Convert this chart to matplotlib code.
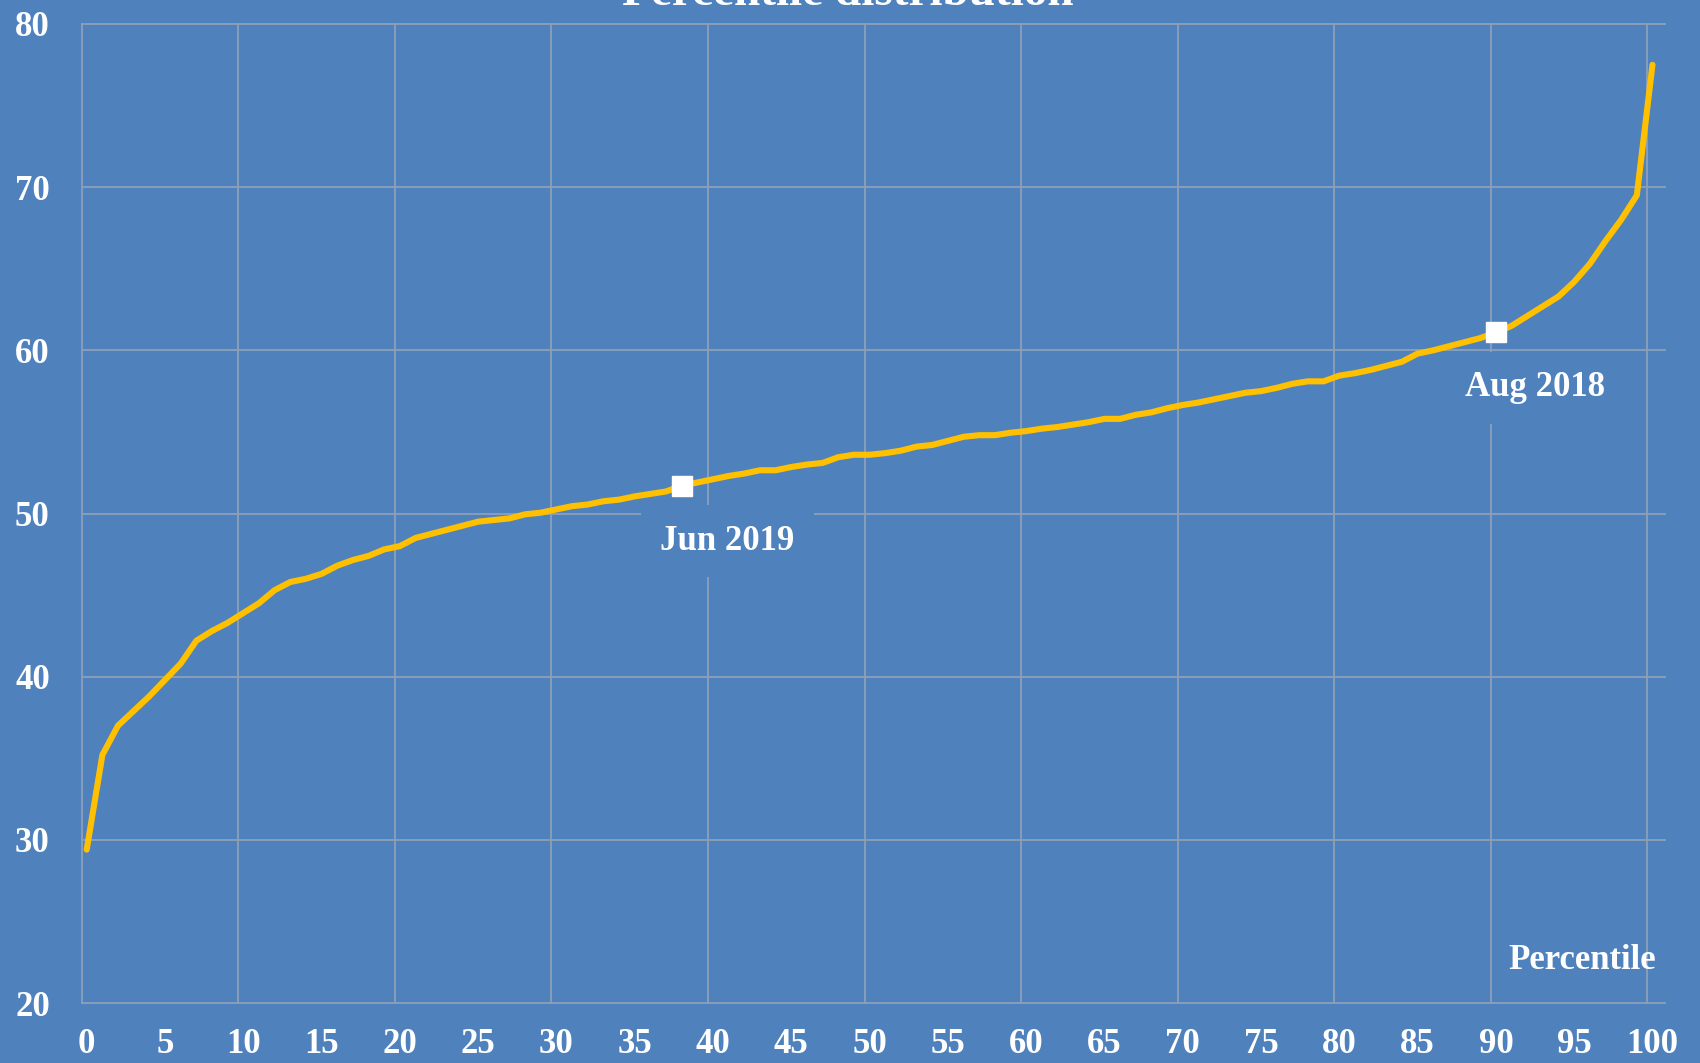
import matplotlib
matplotlib.use("Agg")
import matplotlib.pyplot as plt
import numpy as np

# ---- data ----
percentiles = list(range(0, 101))
values = [
    29.4, 35.2, 37.0, 37.9, 38.8, 39.8, 40.8, 42.2, 42.8, 43.3,
    43.9, 44.5, 45.3, 45.8, 46.0, 46.3, 46.8, 47.15, 47.4, 47.8,
    48.0, 48.5, 48.75, 49.0, 49.25, 49.5, 49.6, 49.7, 49.95, 50.05,
    50.25, 50.45, 50.55, 50.75, 50.85, 51.05, 51.2, 51.35, 51.7, 51.9,
    52.1, 52.3, 52.45, 52.65, 52.65, 52.85, 53.0, 53.1, 53.45, 53.6,
    53.6, 53.7, 53.85, 54.1, 54.2, 54.45, 54.7, 54.8, 54.8, 54.95,
    55.05, 55.2, 55.3, 55.45, 55.6, 55.8, 55.8, 56.05, 56.2, 56.45,
    56.65, 56.8, 57.0, 57.2, 57.4, 57.5, 57.7, 57.95, 58.1, 58.1,
    58.45, 58.6, 58.8, 59.05, 59.3, 59.8, 60.0, 60.25, 60.5, 60.75,
    61.1, 61.5, 62.1, 62.7, 63.3, 64.2, 65.3, 66.7, 68.0, 69.5,
    77.5,
]
marker_percentiles = [38, 90]
marker_labels = ["Jun 2019", "Aug 2018"]
label_positions = [(40.9, 48.3), (92.5, 57.7)]
x_ticks = list(range(0, 101, 5))
y_ticks = [20, 30, 40, 50, 60, 70, 80]
title = "Percentile distribution"
x_label = "Percentile"

# ---- style ----
BG = "#4F81BD"
GRID = "#8E9FB8"
LINE = "#FFC000"
FONT = ["Liberation Serif", "DejaVu Serif"]

W, H = 1700, 1063
fig = plt.figure(figsize=(W / 100, H / 100), dpi=100)
fig.patch.set_facecolor(BG)

left, right, top, bottom = 81.7, 1665, 24, 1003
ax = fig.add_axes([left / W, 1 - bottom / H, (right - left) / W, (bottom - top) / H])
ax.set_facecolor(BG)

x0 = -0.32
ax.set_xlim(x0, 100.8)
ax.set_ylim(20, 80)

# grid
for gx in np.arange(0, 101, 10) + x0:
    ax.axvline(gx, color=GRID, lw=1.3, zorder=1, clip_on=False)
for gy in y_ticks:
    ax.axhline(gy, color=GRID, lw=1.3, zorder=1, clip_on=False)

ax.plot(percentiles, values, color=LINE, lw=4.4, zorder=3,
        solid_joinstyle="miter", solid_capstyle="round")

mx = marker_percentiles
my = [values[p] for p in marker_percentiles]
ax.plot(mx, my, linestyle="none", marker="s", ms=15, mfc="white",
        mec="white", zorder=4)

for (lx, ly), txt in zip(label_positions, marker_labels):
    ax.text(lx, ly, txt, ha="center", va="center", fontsize=25,
            fontweight="bold", color="white", family=FONT, zorder=2,
            bbox=dict(facecolor=BG, edgecolor="none", pad=14))

ax.text(100.2, 22.08, x_label, ha="right", va="baseline", fontsize=25,
        fontweight="bold", color="white", family=FONT, zorder=5)

ax.set_xticks(x_ticks)
ax.set_xticklabels([str(t) for t in x_ticks])
ax.set_yticks(y_ticks)
ax.set_yticklabels([str(t) for t in y_ticks])
ax.tick_params(axis="both", length=0, colors="white", labelsize=25)
ax.tick_params(axis="x", pad=18)
ax.tick_params(axis="y", pad=23)
for lab in ax.get_xticklabels() + ax.get_yticklabels():
    lab.set_fontweight("bold")
    lab.set_family(FONT)
    lab.set_color("white")
for s in ax.spines.values():
    s.set_visible(False)
ax.grid(False)

fig.text(848 / W, 1 - 5 / H, title, ha="center", va="baseline", fontsize=34,
         fontweight="bold", color="white", family=FONT)

fig.savefig("out.png", dpi=100, facecolor=BG)
